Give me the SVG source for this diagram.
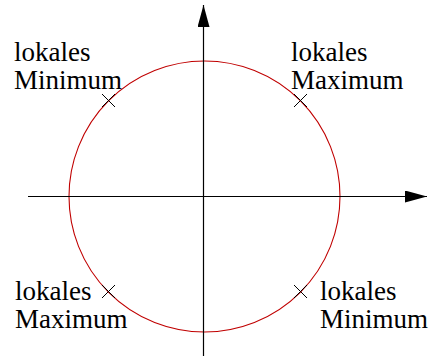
<svg xmlns="http://www.w3.org/2000/svg" width="430" height="358" viewBox="0 0 430 358">
<style>
.lbl{font-family:'Liberation Serif','Times New Roman',Times,serif;font-size:27px;fill:#000}
.ax{stroke:#000;stroke-width:1.2;fill:none}
.cr{stroke:#000;stroke-width:1;fill:none}
</style>
<defs>
<marker id="ah" viewBox="0 0 22 12" refX="22" refY="6" markerWidth="22" markerHeight="12" markerUnits="userSpaceOnUse" orient="auto">
<path d="M0,0 L22,6 L0,12 Z" fill="#000"/>
</marker>
</defs>
<rect width="430" height="358" fill="#fff"/>
<g id="circle">
<circle cx="204.5" cy="196.5" r="135.5" fill="none" stroke="#c00000" stroke-width="1.1"/>
</g>
<g id="connectors">
<line class="ax" x1="28" y1="196.5" x2="427" y2="196.5" marker-end="url(#ah)"/>
<line class="ax" x1="203.5" y1="356" x2="203.5" y2="5" marker-end="url(#ah)"/>
</g>
<g id="cross-tl"><path class="cr" d="M102,94 L115,107 M102,107 L115,94"/></g>
<g id="cross-tr"><path class="cr" d="M294,94 L307,107 M294,107 L307,94"/></g>
<g id="cross-bl"><path class="cr" d="M102,285 L115,298 M102,298 L115,285"/></g>
<g id="cross-br"><path class="cr" d="M294,285 L307,298 M294,298 L307,285"/></g>
<g id="label-tl"><text class="lbl" x="14" y="61">lokales</text><text class="lbl" x="14" y="89">Minimum</text></g>
<g id="label-tr"><text class="lbl" x="291" y="61">lokales</text><text class="lbl" x="291" y="89">Maximum</text></g>
<g id="label-bl"><text class="lbl" x="15" y="300">lokales</text><text class="lbl" x="15" y="328">Maximum</text></g>
<g id="label-br"><text class="lbl" x="320" y="300">lokales</text><text class="lbl" x="320" y="328">Minimum</text></g>
</svg>
